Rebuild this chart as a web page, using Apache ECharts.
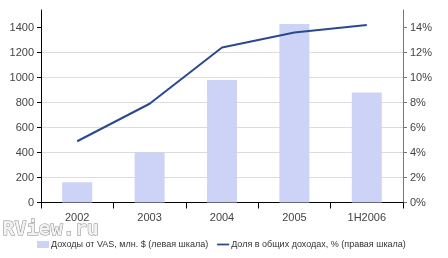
<!DOCTYPE html>
<html><head><meta charset="utf-8">
<script src="https://cdn.jsdelivr.net/npm/echarts@6/dist/echarts.min.js"></script>
<style>html,body{margin:0;padding:0;background:#fff}#c{width:448px;height:258px}</style>
</head><body><div id="c"></div>
<script>
const categories = ['2002', '2003', '2004', '2005', '1H2006'];
const revenueVAS = [162, 402, 980, 1428, 880];
const shareOfRevenue = [0.049, 0.079, 0.124, 0.136, 0.142];
const leftTicks = [0, 200, 400, 600, 800, 1000, 1200, 1400];
const rightTicks = [0, 0.02, 0.04, 0.06, 0.08, 0.10, 0.12, 0.14];
const barName = 'Доходы от VAS, млн. $ (левая шкала)';
const lineName = 'Доля в общих доходах, % (правая шкала)';
const watermark = 'RView.ru';

const chart = echarts.init(document.getElementById('c'), null, {renderer: 'canvas'});
const font = 'Liberation Sans, Arial, sans-serif';
chart.setOption({
  animation: false,
  backgroundColor: '#fff',
  textStyle: {fontFamily: font},
  graphic: [{
    type: 'text', left: 2, top: 219,
    style: {text: watermark, font: 'bold 20px "DejaVu Sans Mono", monospace', fill: '#f2f2f2', stroke: '#8a8a8a', lineWidth: 1}
  }],
  legend: {
    left: 32, top: 235, itemGap: 9, itemWidth: 12, itemHeight: 7,
    textStyle: {fontSize: 9, color: '#333', fontFamily: font, padding: [0, 0, 0, -3]},
    data: [
      {name: barName, icon: 'rect'},
      {name: lineName, icon: 'path://M0,0H20V3H0Z'}
    ]
  },
  grid: {left: 41, right: 45, top: 10, bottom: 55.5, containLabel: false},
  xAxis: {
    type: 'category', data: categories,
    axisLine: {lineStyle: {color: '#000', width: 1}},
    axisTick: {show: true, alignWithLabel: false, length: 6, lineStyle: {color: '#000'}},
    axisLabel: {fontSize: 11, color: '#444', margin: 10, fontFamily: font}
  },
  yAxis: [{
    type: 'value', min: 0, max: 1540, interval: 200, position: 'left',
    axisLine: {show: true, lineStyle: {color: '#000'}},
    axisTick: {show: true, inside: false, length: 4, customValues: leftTicks, lineStyle: {color: '#000'}},
    axisLabel: {fontSize: 11, color: '#444', margin: 7, customValues: leftTicks, fontFamily: font,
      formatter: v => String(v)},
    splitLine: {show: true, showMaxLine: false, lineStyle: {color: '#dcdcdc', width: 1}}
  }, {
    type: 'value', min: 0, max: 0.154, interval: 0.02, position: 'right',
    axisLine: {show: true, lineStyle: {color: '#777'}},
    axisTick: {show: true, length: 4, customValues: rightTicks, lineStyle: {color: '#777'}},
    axisLabel: {fontSize: 11, color: '#444', margin: 7, customValues: rightTicks, fontFamily: font,
      formatter: v => Math.round(v * 100) + '%'},
    splitLine: {show: false}
  }],
  series: [{
    name: barName, type: 'bar', data: revenueVAS, yAxisIndex: 0, barWidth: 30,
    itemStyle: {color: '#ccd3f6'}
  }, {
    name: lineName, type: 'line', data: shareOfRevenue, yAxisIndex: 1,
    symbol: 'none', lineStyle: {color: '#2b4a8e', width: 2},
    itemStyle: {color: '#2b4a8e'}
  }]
});
</script></body></html>
